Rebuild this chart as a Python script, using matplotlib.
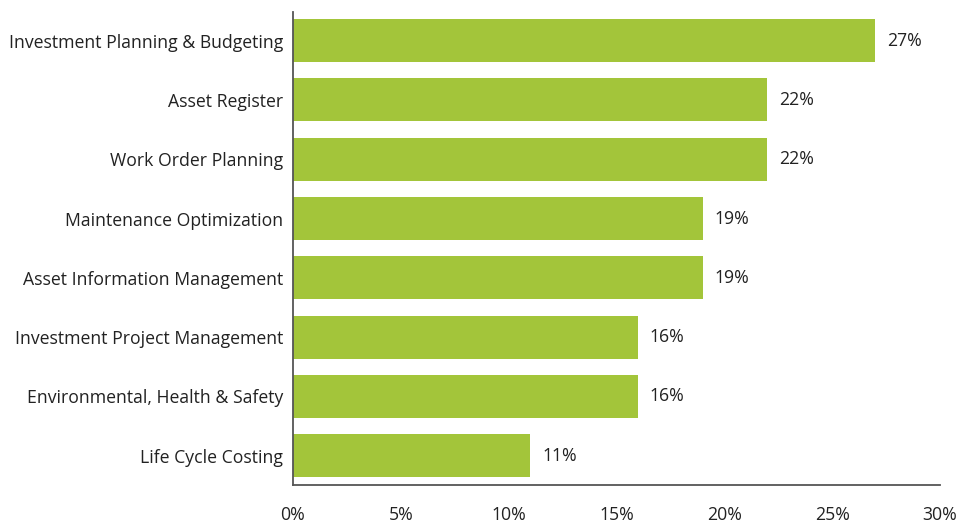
import matplotlib
matplotlib.use('Agg')
import matplotlib.pyplot as plt

categories = ['Investment Planning & Budgeting', 'Asset Register', 'Work Order Planning',
              'Maintenance Optimization', 'Asset Information Management',
              'Investment Project Management', 'Environmental, Health & Safety',
              'Life Cycle Costing']
values = [27, 22, 22, 19, 19, 16, 16, 11]
xticks = [0, 5, 10, 15, 20, 25, 30]
xtick_labels = ['0%', '5%', '10%', '15%', '20%', '25%', '30%']

plt.rcParams['font.family'] = ['Open Sans', 'DejaVu Sans']
plt.rcParams['font.size'] = 12.7

fig = plt.figure(figsize=(9.76, 5.24), dpi=100)
ax = fig.add_axes([0.3002, 0.0735, 0.6629, 0.9035])

pos = list(range(len(categories)))
ax.barh(pos, values, height=0.72, color='#A3C53A')
for p, v in zip(pos, values):
    ax.text(v + 0.55, p, '%d%%' % v, va='center', ha='left', color='#222222')

ax.set_ylim(7.5, -0.48)
ax.set_xlim(0, 30)
ax.set_yticks(pos)
ax.set_yticklabels(categories, color='#222222')
ax.set_xticks(xticks)
ax.set_xticklabels(xtick_labels, color='#222222')
ax.tick_params(axis='both', length=0)
ax.tick_params(axis='y', pad=7)
ax.tick_params(axis='x', pad=14.5)
for s in ['top', 'right']:
    ax.spines[s].set_visible(False)
for s in ['left', 'bottom']:
    ax.spines[s].set_color('#555555')
    ax.spines[s].set_linewidth(1.3)

fig.savefig('out.png', dpi=100)
